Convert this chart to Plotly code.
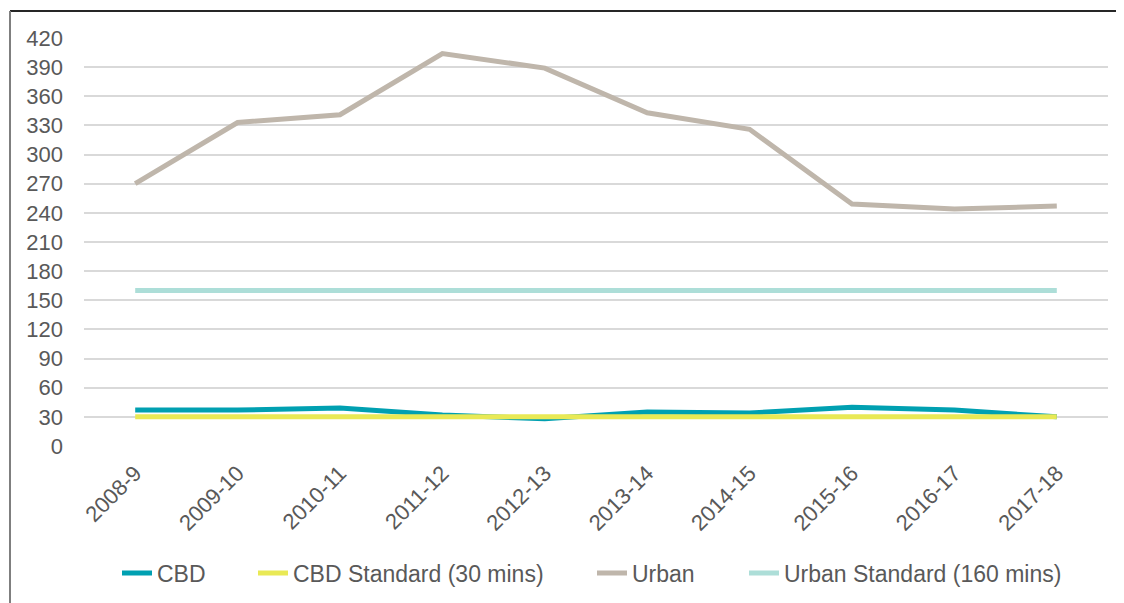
import plotly.graph_objects as go

years = ["2008-9", "2009-10", "2010-11", "2011-12", "2012-13",
         "2013-14", "2014-15", "2015-16", "2016-17", "2017-18"]
cbd = [37, 37, 39, 32, 28, 35, 34, 40, 37, 30]
cbd_standard = [30, 30, 30, 30, 30, 30, 30, 30, 30, 30]
urban = [270, 333, 341, 404, 389, 343, 326, 249, 244, 247]
urban_standard = [160, 160, 160, 160, 160, 160, 160, 160, 160, 160]
y_ticks = list(range(0, 421, 30))

W, H = 1124, 603
OFF = 8  # page body margin in the rendered html
# plot area in page pixels: x 84..1108, y 38..446
ML = 84 - OFF
MT = 38 - OFF
MR = W - (1108 - OFF)
MB = H - (446 - OFF)
PW, PH = W - ML - MR, H - MT - MB

series = [
    ("CBD", cbd, "#00A0B1"),
    ("CBD Standard (30 mins)", cbd_standard, "#E9E955"),
    ("Urban", urban, "#BFB6AB"),
    ("Urban Standard (160 mins)", urban_standard, "#ADDED8"),
]
legend_text_x = [157, 293, 632, 784]  # page px where legend text begins

font = dict(family="Liberation Sans, Arial, sans-serif", size=22, color="#595959")
legend_font = dict(family="Liberation Sans, Arial, sans-serif", size=23, color="#595959")

fig = go.Figure()
legend_layout = {}
for i, ((name, vals, col), tx) in enumerate(zip(series, legend_text_x)):
    lname = "legend" if i == 0 else f"legend{i+1}"
    fig.add_trace(go.Scatter(x=years, y=vals, name=name, mode="lines",
                             line=dict(color=col, width=5), legend=lname))
    legend_layout[lname] = dict(
        orientation="h", xanchor="left", yanchor="middle",
        x=((tx - OFF - 40) - ML) / PW,
        y=-((573 - OFF) - (H - MB)) / PH,
        font=legend_font, bgcolor="rgba(0,0,0,0)", borderwidth=0)

fig.update_layout(
    width=W, height=H,
    margin=dict(l=ML, r=MR, t=MT, b=MB, autoexpand=False),
    plot_bgcolor="white", paper_bgcolor="white",
    font=font,
    showlegend=True,
    xaxis=dict(type="category", range=[-0.5, 9.5], showgrid=False,
               zeroline=False, showline=False, ticks="", tickangle=-45,
               ticklabelstandoff=9, tickfont=font, automargin=False),
    yaxis=dict(range=[0, 420], tickvals=y_ticks, showgrid=True,
               gridcolor="#D9D9D9", gridwidth=1.5, zeroline=False,
               showline=False, ticks="", ticklabelstandoff=20,
               tickfont=font, automargin=False),
    **legend_layout,
)

# outer chart border (top and left edges visible)
bx = ((10 - OFF) - ML) / PW
by = 1 + (MT - (11 - OFF)) / PH
fig.add_shape(type="line", xref="paper", yref="paper",
              x0=bx, x1=1 + (MR + 20) / PW, y0=by, y1=by,
              line=dict(color="#262626", width=2))
fig.add_shape(type="line", xref="paper", yref="paper",
              x0=bx, x1=bx, y0=by, y1=-(MB + 20) / PH,
              line=dict(color="#7F7F7F", width=2))

fig.write_html("out.html")
